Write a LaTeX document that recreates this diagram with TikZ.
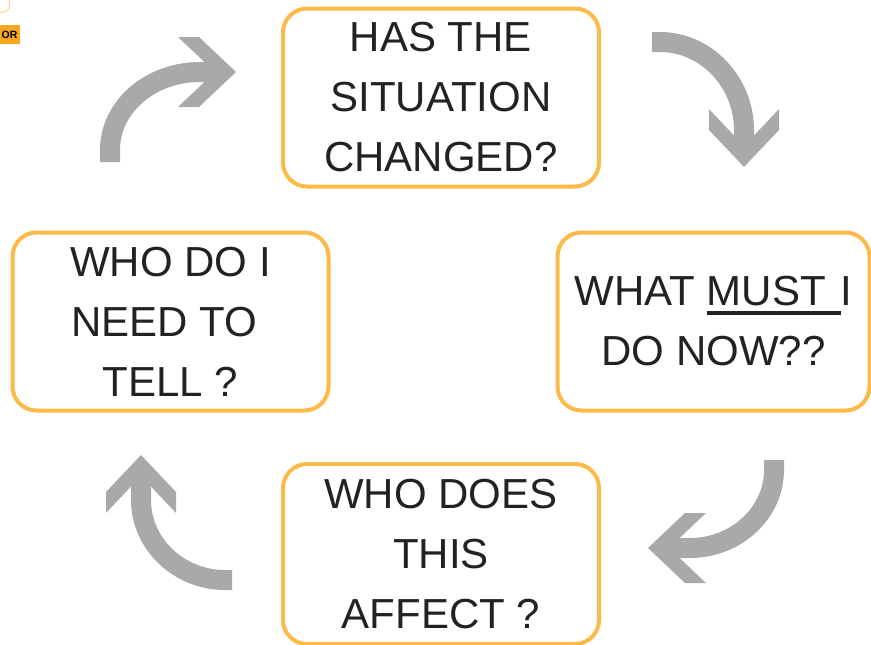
\documentclass[tikz,border=0pt]{standalone}
\usepackage{fontspec}
\setmainfont{Liberation Sans}
\usepackage{tikz}

\definecolor{boxorange}{RGB}{253,186,72}
\definecolor{tagorange}{RGB}{247,166,30}
\definecolor{loopgray}{RGB}{169,169,169}
\definecolor{inkdark}{RGB}{34,34,34}

% chevron head: tip, angle
\newcommand{\chevhead}[2]{%
    \fill[loopgray, shift={#1}, rotate=#2] (0,0) -- (-37,35) -- (-58,35) -- (-21,0) -- (-58,-35) -- (-37,-35) -- cycle;}
% thick underline
\newcommand{\thickul}[1]{\setbox0\hbox{#1}\rlap{\rule[-9pt]{\wd0}{4pt}}\box0}

\tikzset{
    qbox/.style={draw=boxorange, line width=4pt, rounded corners=24pt,
        minimum width=316pt, minimum height=178pt, inner sep=0pt,
        align=center, text=inkdark, font=\fontsize{42}{60}\selectfont},
    shaft/.style={draw=loopgray, line width=20pt}
}

\begin{document}
\begin{tikzpicture}[x=1pt, y=-1pt]
    \useasboundingbox (0,0) rectangle (871,645);
    \clip (0,0) rectangle (871,645);

    % corner tag
    \draw[boxorange!60, line width=1pt] (9.5,0) -- (9.5,5) .. controls (9.5,10) and (6,12.5) .. (0,12.5);
    \fill[tagorange] (0,25) rectangle (20,44);
    \node[anchor=base west, inner sep=0pt, font=\bfseries\fontsize{10.5}{10.5}\selectfont] (tag) at (1.5,38) {OR};

    % question boxes
    \node[qbox] (changed) at (441,97.5) {HAS THE\\SITUATION\\CHANGED?};
    \node[qbox, minimum width=312pt] (must) at (713.5,321.5) {WHAT \thickul{MUST\ \kern3pt}I\\DO NOW??};
    \node[qbox, minimum height=180pt] (affect) at (441,554) {WHO DOES\\THIS\\AFFECT ?};
    \node[qbox] (tell) at (170.5,321.5) {WHO DO I\\NEED TO\kern12pt\\TELL ?};

    % loop arrows
    \coordinate (a1) at (110,162);
    \coordinate (a2) at (652,42);
    \coordinate (a3) at (774,460);
    \coordinate (a4) at (232,580);

    \draw[shaft] (a1) -- (110,150) .. controls (110,107) and (150,72) .. (200,72) -- (216,72);
    \chevhead{(236,72)}{0}
    \draw[shaft] (a2) -- (660,42) .. controls (706,42) and (744,82) .. (744,130) -- (744,147);
    \chevhead{(744,167)}{-90}
    \draw[shaft] (a3) -- (774,470) .. controls (774,513) and (736,548) .. (690,548) -- (668,548);
    \chevhead{(648,548)}{180}
    \draw[shaft] (a4) -- (225,580) .. controls (179,580) and (141,544) .. (141,500) -- (141,475);
    \chevhead{(141,455)}{90}
\end{tikzpicture}
\end{document}
